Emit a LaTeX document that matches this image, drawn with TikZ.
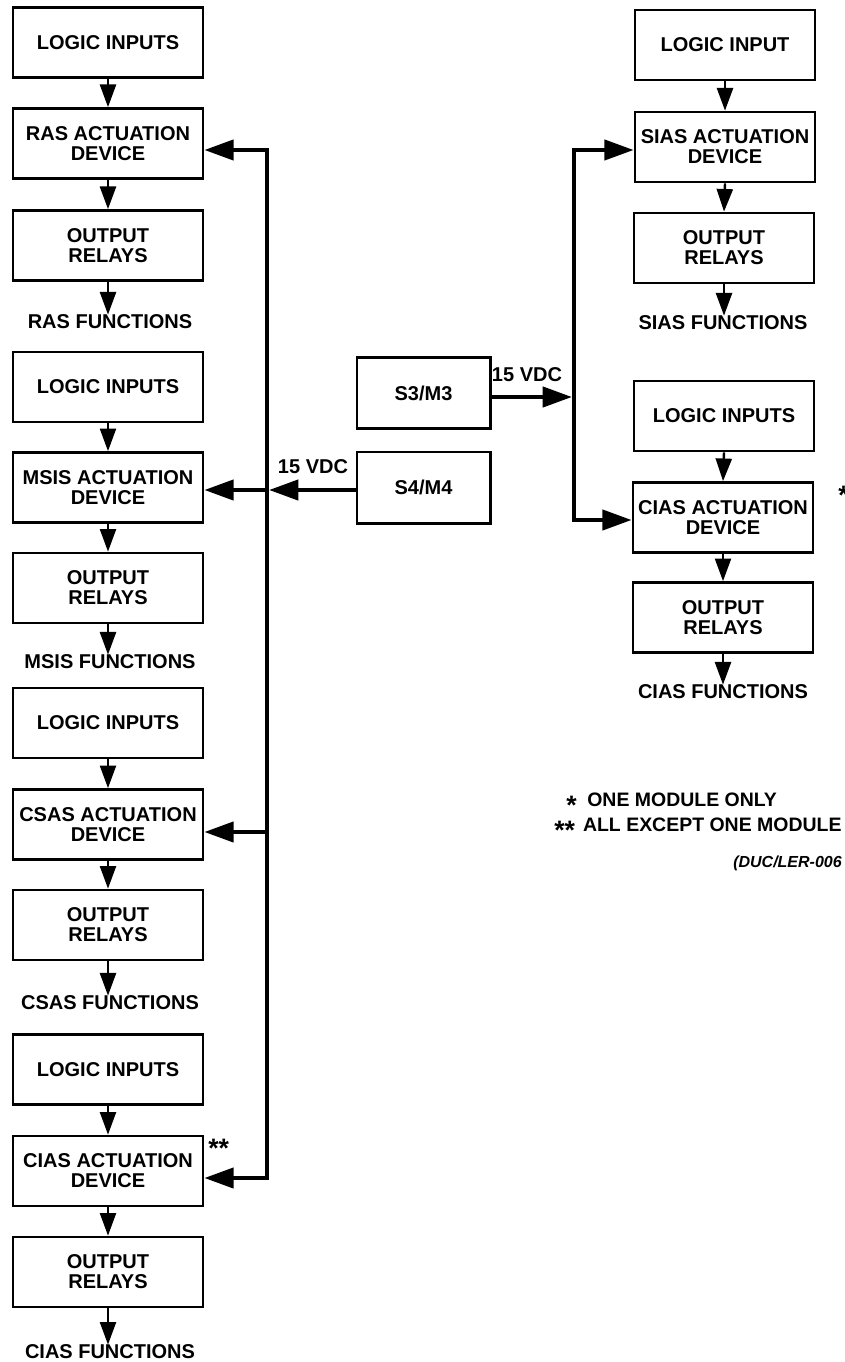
\documentclass[tikz,border=0pt]{standalone}
\usepackage{fontspec}
\setmainfont{Liberation Sans}
\usetikzlibrary{arrows.meta}
\newcommand{\myast}[1]{\raisebox{-6pt}[0pt][0pt]{\fontsize{20}{20}\selectfont #1}}
\begin{document}
\begin{tikzpicture}[x=0.75pt,y=-0.75pt,
 box/.style={draw, line width=2pt, minimum width=142.5pt, minimum height=52.5pt, align=center, font=\fontsize{15}{15}\selectfont\bfseries, inner sep=0pt},
 rbox/.style={box, minimum width=135pt},
 sbox/.style={box, minimum width=100pt, minimum height=53.5pt},
 lbl/.style={font=\fontsize{15}{15}\selectfont\bfseries, inner sep=0pt},
 leg/.style={font=\fontsize{14.6}{15}\selectfont\bfseries, inner sep=0pt},
 note/.style={font=\fontsize{20}{20}\selectfont\bfseries, inner sep=0pt},
 varrow/.style={line width=1.8pt, -{Triangle[length=17pt,width=12pt]}},
 harrow/.style={line width=3.2pt, line cap=rect, -{Triangle[length=22pt,width=15pt]}},
 bus/.style={line width=3.2pt, line cap=rect}]
\useasboundingbox (0,0) rectangle (844,1362);

% ---------- left column ----------
\node[box] (li1) at (108,42.5) {LOGIC INPUTS};
\node[box] (ras) at (108,143.5) {RAS ACTUATION\\DEVICE};
\node[box] (or1) at (108,245.5) {OUTPUT\\RELAYS};
\node[lbl] (f1) at (110,322) {RAS FUNCTIONS};

\node[box] (li2) at (108,387) {LOGIC INPUTS};
\node[box] (msis) at (108,487.5) {MSIS ACTUATION\\DEVICE};
\node[box] (or2) at (108,588) {OUTPUT\\RELAYS};
\node[lbl] (f2) at (110,662) {MSIS FUNCTIONS};

\node[box] (li3) at (108,723) {LOGIC INPUTS};
\node[box] (csas) at (108,824.5) {CSAS ACTUATION\\DEVICE};
\node[box] (or3) at (108,925) {OUTPUT\\RELAYS};
\node[lbl] (f3) at (110,1003) {CSAS FUNCTIONS};

\node[box] (li4) at (108,1069.5) {LOGIC INPUTS};
\node[box] (cias) at (108,1171) {CIAS ACTUATION\\DEVICE};
\node[box] (or4) at (108,1272) {OUTPUT\\RELAYS};
\node[lbl] (f4) at (110,1352) {CIAS FUNCTIONS};
\node[note, anchor=base west] (st2) at (208,1157) {**};

\foreach \a/\b in {li1/ras,ras/or1,li2/msis,msis/or2,li3/csas,csas/or3,li4/cias,cias/or4}
  \draw[varrow] (\a.south) -- (\b.north);
\foreach \a/\b in {or1/f1,or2/f2,or3/f3,or4/f4}
  \draw[varrow] (\a.south) -- (\a.south |- \b.north);

% ---------- right column ----------
\node[rbox] (rli1) at (725,45) {LOGIC INPUT};
\node[rbox] (sias) at (725,147) {SIAS ACTUATION\\DEVICE};
\node[rbox] (ror1) at (724,248) {OUTPUT\\RELAYS};
\node[lbl] (rf1) at (723,323) {SIAS FUNCTIONS};

\node[rbox] (rli2) at (724,416) {LOGIC INPUTS};
\node[rbox] (rcias) at (723,517.5) {CIAS ACTUATION\\DEVICE};
\node[rbox] (ror2) at (723,617.5) {OUTPUT\\RELAYS};
\node[lbl] (rf2) at (723,692) {CIAS FUNCTIONS};
\node[note, anchor=base west] (st1) at (838,504) {*};

\foreach \a/\b in {rli1/sias,sias/ror1,rli2/rcias,rcias/ror2}
  \draw[varrow] (\a.south) -- (\b.north);
\foreach \a/\b in {ror1/rf1,ror2/rf2}
  \draw[varrow] (\a.south) -- (\a.south |- \b.north);

% ---------- power supplies ----------
\node[sbox] (s3) at (423.5,393) {S3/M3};
\node[sbox] (s4) at (423.5,487.5) {S4/M4};
\node[lbl] (v3) at (527,375) {15 VDC};
\node[lbl] (v4) at (313,467) {15 VDC};

% left bus
\coordinate (bl1) at (267,150);
\coordinate (bl2) at (267,490);
\coordinate (bl3) at (267,832);
\coordinate (bl4) at (267,1178);
\draw[bus] (bl1) -- (bl4);
\draw[harrow] (bl1) -- (bl1 -| ras.east);
\draw[harrow] (bl2) -- (bl2 -| msis.east);
\draw[harrow] (bl3) -- (bl3 -| csas.east);
\draw[harrow] (bl4) -- (bl4 -| cias.east);
\coordinate (t4) at (269,490);
\draw[harrow] (s4.west |- bl2) -- (t4);

% right bus
\coordinate (br1) at (574,150);
\coordinate (br2) at (574,520);
\coordinate (t3) at (572,397);
\draw[bus] (br1) -- (br2);
\draw[harrow] (br1) -- (br1 -| sias.west);
\draw[harrow] (br2) -- (br2 -| rcias.west);
\draw[harrow] (s3.east |- t3) -- (t3);

% ---------- legend ----------
\node[leg, anchor=west] (n1) at (566,800) {\myast{*}\hspace{8pt}ONE MODULE ONLY};
\node[leg, anchor=west] (n2) at (554,825) {\myast{**}\hspace{6pt}ALL EXCEPT ONE MODULE};
\node[anchor=west, inner sep=0pt, font=\fontsize{12}{12}\selectfont\bfseries\itshape] (ref) at (733,863) {(DUC/LER-006};
\end{tikzpicture}
\end{document}
